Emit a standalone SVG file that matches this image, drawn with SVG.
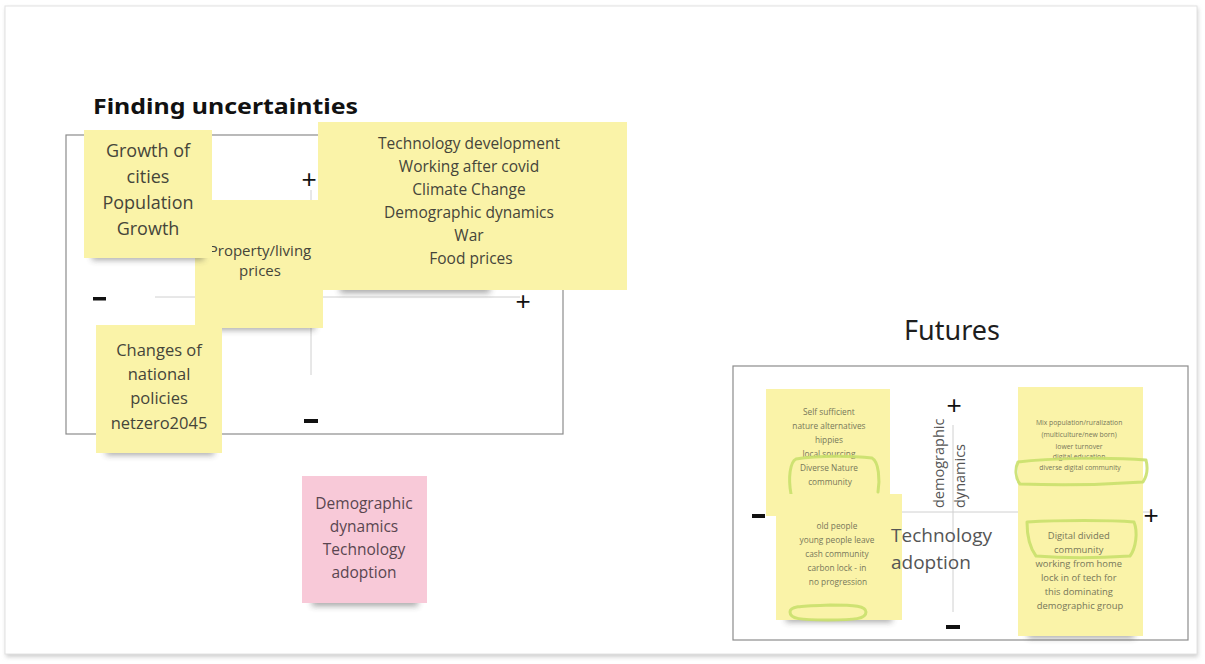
<svg xmlns="http://www.w3.org/2000/svg" width="1205" height="664" viewBox="0 0 1205 664">
  <defs>
    <style>
      .note { fill: #faf3a8; }
      .pink { fill: #f8c9d8; }
      .frame { fill: none; stroke: #8c8c8c; stroke-width: 1.2; }
      .axis { stroke: #d0d0d0; stroke-width: 1; }
      .sign { font-family: "Liberation Sans", Arial, sans-serif; fill: #111; text-anchor: middle; }
      .nt { font-family: "Open Sans", "Noto Sans", sans-serif; fill: #45453a; text-anchor: middle; }
      .ns { font-family: "Open Sans", "Noto Sans", sans-serif; fill: #77775a; text-anchor: middle; }
      .lbl { font-family: "Open Sans", "Noto Sans", sans-serif; fill: #555555; }
      .hl { fill: none; stroke: #c9e06c; stroke-width: 3; stroke-linecap: round; stroke-linejoin: round; opacity: 0.9; }
      .shadow { fill: #3a3a3a; opacity: 0.45; filter: url(#blur); }
    </style>
    <filter id="blur" x="-20%" y="-200%" width="140%" height="500%">
      <feGaussianBlur stdDeviation="3"/>
    </filter>
    <filter id="board" x="-5%" y="-5%" width="110%" height="110%">
      <feGaussianBlur stdDeviation="2"/>
    </filter>
  </defs>

  <!-- board background -->
  <rect x="0" y="0" width="1205" height="664" fill="#ffffff"/>
  <rect x="6" y="8" width="1192" height="649" fill="#cfcfcf" filter="url(#board)"/>
  <rect x="5" y="6" width="1192" height="648" fill="#ffffff" stroke="#e2e2e2" stroke-width="1"/>

  <!-- left panel: Finding uncertainties -->
  <text x="93" y="114" font-family="'Noto Sans', 'Open Sans', sans-serif" font-weight="bold" font-size="22" fill="#111" textLength="265" lengthAdjust="spacingAndGlyphs">Finding uncertainties</text>
  <rect class="frame" x="66" y="135" width="497" height="299"/>

  <g id="left-axes">
    <line class="axis" x1="155" y1="297" x2="520" y2="297"/>
    <line class="axis" x1="311" y1="190" x2="311" y2="375"/>
    <text class="sign" x="309" y="188" font-size="26">+</text>
    <text class="sign" x="523" y="310" font-size="26">+</text>
    <rect x="93" y="297" width="13" height="3.5" fill="#111"/>
    <rect x="304" y="419" width="14" height="4" fill="#111"/>
  </g>

  <g id="note-property">
    <rect class="shadow" x="205" y="322" width="110" height="8"/>
    <rect class="note" x="195" y="200" width="128" height="128"/>
    <text class="nt" font-size="15"><tspan x="260" y="256">Property/living</tspan><tspan x="260" y="276">prices</tspan></text>
  </g>

  <g id="note-growth">
    <rect class="shadow" x="92" y="252" width="112" height="8"/>
    <rect class="note" x="84" y="130" width="128" height="128"/>
    <text class="nt" font-size="18"><tspan x="148" y="157">Growth of</tspan><tspan x="148" y="183">cities</tspan><tspan x="148" y="209">Population</tspan><tspan x="148" y="235">Growth</tspan></text>
  </g>

  <g id="note-drivers">
    <rect class="shadow" x="340" y="284" width="150" height="9"/>
    <rect class="note" x="318" y="122" width="309" height="168"/>
    <text class="nt" font-size="15.5">
      <tspan x="471" y="149">Technology development</tspan>
      <tspan x="471" y="172">Working after covid</tspan>
      <tspan x="471" y="195">Climate Change</tspan>
      <tspan x="471" y="218">Demographic dynamics</tspan>
      <tspan x="471" y="241">War</tspan>
      <tspan x="471" y="264">Food prices</tspan>
    </text>
  </g>

  <g id="note-policies">
    <rect class="shadow" x="106" y="447" width="108" height="8"/>
    <rect class="note" x="96" y="325" width="126" height="128"/>
    <text class="nt" font-size="16.5"><tspan x="159" y="356">Changes of</tspan><tspan x="159" y="380">national</tspan><tspan x="159" y="404">policies</tspan><tspan x="159" y="429">netzero2045</tspan></text>
  </g>

  <g id="note-selected">
    <rect class="shadow" x="312" y="597" width="106" height="9"/>
    <rect class="pink" x="302" y="476" width="125" height="127"/>
    <text class="nt" font-size="15.5" style="fill:#5a4650"><tspan x="364" y="509">Demographic</tspan><tspan x="364" y="532">dynamics</tspan><tspan x="364" y="555">Technology</tspan><tspan x="364" y="578">adoption</tspan></text>
  </g>

  <!-- right panel: Futures -->
  <text x="952" y="340" font-family="'Noto Sans', 'Open Sans', sans-serif" font-size="27" fill="#1e1e1e" text-anchor="middle">Futures</text>
  <rect class="frame" x="733" y="366" width="455" height="274"/>

  <g id="right-axes">
    <line class="axis" x1="770" y1="512" x2="1150" y2="512"/>
    <line class="axis" x1="953" y1="425" x2="953" y2="612"/>
    <text class="sign" x="954" y="414" font-size="26">+</text>
    <text class="sign" x="1151" y="524" font-size="26">+</text>
    <rect x="752" y="514" width="13" height="4" fill="#111"/>
    <rect x="946" y="625" width="14" height="4" fill="#111"/>
  </g>

  <g id="future-nature">
    <rect class="note" x="766" y="389" width="124" height="127"/>
    <text class="ns" font-size="8.3">
      <tspan x="830" y="415">Self sufficient</tspan>
      <tspan x="830" y="429">nature alternatives</tspan>
      <tspan x="830" y="443">hippies</tspan>
      <tspan x="830" y="457">local sourcing</tspan>
      <tspan x="830" y="471">Diverse Nature</tspan>
      <tspan x="830" y="485">community</tspan>
    </text>
    <path class="hl" d="M791 494 C788 478 790 462 796 459 C820 455 855 456 872 458 C879 462 880 480 878 492"/>
  </g>

  <g id="future-lockin">
    <rect class="shadow" x="786" y="614" width="106" height="8"/>
    <rect class="note" x="776" y="494" width="126" height="126"/>
    <text class="ns" font-size="8.3">
      <tspan x="838" y="529">old people</tspan>
      <tspan x="838" y="543">young people leave</tspan>
      <tspan x="838" y="557">cash community</tspan>
      <tspan x="838" y="571">carbon lock - in</tspan>
      <tspan x="838" y="585">no progression</tspan>
    </text>
    <path class="hl" d="M790 612 C790 606 800 606 830 605 C855 605 866 606 866 612 C866 619 855 620 828 620 C800 620 790 619 790 612 Z"/>
  </g>

  <g id="future-digital">
    <rect class="note" x="1018" y="387" width="125" height="127"/>
    <text class="ns" font-size="6.8">
      <tspan x="1080" y="425">Mix population/ruralization</tspan>
      <tspan x="1080" y="437">(multiculture/new born)</tspan>
      <tspan x="1080" y="449">lower turnover</tspan>
      <tspan x="1080" y="459">digital education</tspan>
      <tspan x="1080" y="470">diverse digital community</tspan>
    </text>
    <path class="hl" d="M1018 462 C1050 458 1110 457 1146 460 C1148 468 1147 476 1143 482 C1100 485 1050 485 1020 484 C1015 478 1015 468 1018 462 Z"/>
  </g>

  <g id="future-divided">
    <rect class="shadow" x="1028" y="630" width="106" height="8"/>
    <rect class="note" x="1018" y="508" width="125" height="128"/>
    <text class="ns" font-size="9.4">
      <tspan x="1080" y="539">Digital divided</tspan>
      <tspan x="1080" y="553">community</tspan>
      <tspan x="1080" y="567">working from home</tspan>
      <tspan x="1080" y="581">lock in of tech for</tspan>
      <tspan x="1080" y="595">this dominating</tspan>
      <tspan x="1080" y="609">demographic group</tspan>
    </text>
    <path class="hl" d="M1027 522 C1060 520 1110 520 1134 522 C1138 532 1136 548 1130 556 C1100 558 1060 558 1036 556 C1030 548 1027 535 1027 522 Z"/>
  </g>

  <!-- axis labels sit above the sticky notes -->
  <g id="futures-axis-labels">
    <text class="lbl" transform="translate(944,508) rotate(-90)" font-size="14.5">demographic</text>
    <text class="lbl" transform="translate(965,508) rotate(-90)" font-size="14.5">dynamics</text>
    <text class="lbl" font-size="19"><tspan x="891" y="542">Technology</tspan><tspan x="891" y="569">adoption</tspan></text>
  </g>
</svg>
